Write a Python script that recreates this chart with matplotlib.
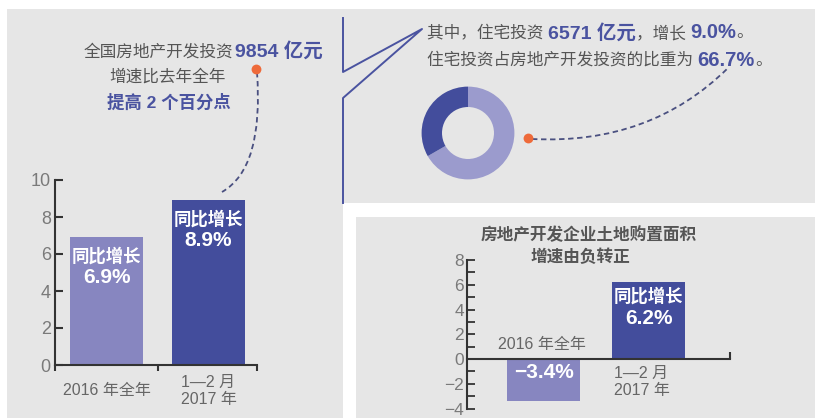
import matplotlib
matplotlib.use("Agg")
import matplotlib.pyplot as plt
from matplotlib.patches import Rectangle, PathPatch
from matplotlib.path import Path

plt.rcParams['font.family'] = ['Liberation Sans', 'Noto Sans CJK SC', 'DejaVu Sans']

# data
invest_cats = ["2016 年全年", "1—2 月\n2017 年"]
invest_growth = [6.9, 8.9]
land_cats = ["2016 年全年", "1—2 月\n2017 年"]
land_growth = [-3.4, 6.2]
housing_share = [66.7, 33.3]

GRAY_BG = "#e6e6e6"
LIGHT = "#8786c0"
DARK = "#434d9c"
BLUE_TXT = "#4a53a0"
TXT = "#555555"
ORANGE = "#ee6a3a"

W, H = 815, 418
fig = plt.figure(figsize=(W / 100, H / 100), dpi=100)
fig.patch.set_facecolor("white")


def px_axes(x0, y0, x1, y1, **kw):
    # axes placed by pixel box (top-left origin)
    return fig.add_axes([x0 / W, 1 - y1 / H, (x1 - x0) / W, (y1 - y0) / H], **kw)


# background panels
bg = px_axes(0, 0, W, H, zorder=0)
bg.set_xlim(0, W)
bg.set_ylim(H, 0)
bg.axis("off")
bg.add_patch(Rectangle((7, 9), 336, 409, color=GRAY_BG, lw=0))
bg.add_patch(Rectangle((343, 9), 472, 194, color=GRAY_BG, lw=0))
bg.add_patch(Rectangle((356, 217), 459, 201, color=GRAY_BG, lw=0))

# callout line
bg.plot([343, 343, 422, 343, 343], [18, 72, 29, 98, 203], color=BLUE_TXT, lw=1.4)

# ---- left bar chart ----
ax1 = px_axes(55, 180, 257, 365, zorder=2)
ax1.patch.set_alpha(0)
x1 = range(len(invest_growth))
ax1.bar(x1, invest_growth, width=0.716, color=[LIGHT, DARK])
ax1.set_xlim(-0.505, 1.475)
ax1.set_ylim(0, 10)
ax1.set_yticks([0, 2, 4, 6, 8, 10])
ax1.set_xticks([-0.505, 0.5, 1.475])
ax1.set_xticklabels([])
for s in ["top", "right"]:
    ax1.spines[s].set_visible(False)
for s in ["left", "bottom"]:
    ax1.spines[s].set_color("#333333")
    ax1.spines[s].set_linewidth(1.5)
ax1.tick_params(axis="y", direction="in", length=6, width=1.5, color="#333333",
                labelsize=13, labelcolor="#7a7a7a", pad=3)
ax1.tick_params(axis="x", direction="out", length=4, width=1.5, color="#333333")
for i, v in enumerate(invest_growth):
    ax1.annotate("同比增长", (i, v), xytext=(0, -18), textcoords="offset pixels",
                 ha="center", va="center", color="white", fontsize=12.5, fontweight="bold")
    ax1.annotate(f"{v}%", (i, v), xytext=(0, -40), textcoords="offset pixels",
                 ha="center", va="center", color="white", fontsize=15, fontweight="bold")
for i, lab in enumerate(invest_cats):
    ax1.annotate(lab, (i, 0), xytext=(0, -26), textcoords="offset pixels",
                 ha="center", va="center", color="#666666", fontsize=11.5, linespacing=1.2)

# ---- donut ----
ax2 = px_axes(468 - 58, 133 - 58, 468 + 58, 133 + 58, zorder=2)
ax2.pie(housing_share, colors=["#9b9bcd", DARK], startangle=90, counterclock=False,
        wedgeprops=dict(width=0.44, linewidth=0))
ax2.set_aspect("equal")

# ---- bottom right bar chart ----
ax3 = px_axes(467, 260, 730, 408.6, zorder=2)
ax3.patch.set_alpha(0)
x3 = range(len(land_growth))
ax3.bar(x3, land_growth, width=0.695, color=[LIGHT, DARK])
ax3.set_xlim(-0.729, 1.776)
ax3.set_ylim(-4, 8)
ax3.set_yticks([-4, -2, 0, 2, 4, 6, 8])
ax3.set_yticks([-3, -1, 1, 3, 5, 7], minor=True)
ax3.set_xticks([1.776])
ax3.set_xticklabels([])
ax3.spines["bottom"].set_position(("data", 0))
for s in ["top", "right"]:
    ax3.spines[s].set_visible(False)
for s in ["left", "bottom"]:
    ax3.spines[s].set_color("#333333")
    ax3.spines[s].set_linewidth(1.5)
ax3.tick_params(axis="y", which="both", direction="in", length=6, width=1.3,
                color="#333333", labelsize=12.5, labelcolor="#7a7a7a", pad=2)
ax3.tick_params(axis="x", direction="in", length=5, width=1.5, color="#333333")
ax3.annotate(f"{land_growth[0]}%".replace("-", "−"), (0, land_growth[0]), xytext=(0, 29),
             textcoords="offset pixels", ha="center", va="center", color="white",
             fontsize=15, fontweight="bold")
ax3.annotate(land_cats[0], (0, 0), xytext=(-2, 15), textcoords="offset pixels",
             ha="center", va="center", color="#666666", fontsize=11.5)
ax3.annotate("同比增长", (1, land_growth[1]), xytext=(0, -13), textcoords="offset pixels",
             ha="center", va="center", color="white", fontsize=12.5, fontweight="bold")
ax3.annotate(f"{land_growth[1]}%", (1, land_growth[1]), xytext=(0, -36), textcoords="offset pixels",
             ha="center", va="center", color="white", fontsize=15, fontweight="bold")
ax3.annotate(land_cats[1], (1, 0), xytext=(-7, -23), textcoords="offset pixels",
             ha="center", va="center", color="#666666", fontsize=11.5, linespacing=1.2)

# ---- overlay: texts, dots, dashed curves ----
ov = px_axes(0, 0, W, H, zorder=5)
ov.patch.set_alpha(0)
ov.set_xlim(0, W)
ov.set_ylim(H, 0)
ov.axis("off")

fig.canvas.draw()
renderer = fig.canvas.get_renderer()


def rich_line(x, y, parts):
    for s, color, weight, size in parts:
        t = ov.text(x, y, s, color=color, fontweight=weight, fontsize=size,
                    ha="left", va="center")
        x += t.get_window_extent(renderer).width


ov.text(233, 52, "全国房地产开发投资", ha="right", va="center", color=TXT, fontsize=12)
ov.text(235, 51, "9854 亿元", ha="left", va="center", color=BLUE_TXT, fontsize=14, fontweight="bold")
ov.text(168, 77, "增速比去年全年", ha="center", va="center", color=TXT, fontsize=12)
ov.text(169, 102, "提高 2 个百分点", ha="center", va="center", color=BLUE_TXT, fontsize=12.5, fontweight="bold")

rich_line(427, 33, [("其中，住宅投资 ", TXT, "normal", 12), ("6571 亿元", BLUE_TXT, "bold", 14),
                    ("，增长 ", TXT, "normal", 12), ("9.0%", BLUE_TXT, "bold", 14.5),
                    ("。", TXT, "normal", 12)])
rich_line(427, 60, [("住宅投资占房地产开发投资的比重为 ", TXT, "normal", 12),
                    ("66.7%", BLUE_TXT, "bold", 14.5), ("。", TXT, "normal", 12)])

ov.text(589, 235, "房地产开发企业土地购置面积", ha="center", va="center", color=TXT,
        fontsize=12, fontweight="bold")
ov.text(580, 257, "增速由负转正", ha="center", va="center", color=TXT,
        fontsize=12, fontweight="bold")

curve_kw = dict(fill=False, edgecolor="#4a5080", lw=1.3, linestyle=(0, (3, 2)))
ov.add_patch(PathPatch(Path([(257, 72), (264, 168), (222, 192)],
                            [Path.MOVETO, Path.CURVE3, Path.CURVE3]), **curve_kw))
ov.add_patch(PathPatch(Path([(532, 139), (650, 145), (728, 68)],
                            [Path.MOVETO, Path.CURVE3, Path.CURVE3]), **curve_kw))
ov.scatter([256, 528], [69, 138], s=50, color=ORANGE, zorder=6, linewidths=0)

fig.savefig("out.png", dpi=100)
